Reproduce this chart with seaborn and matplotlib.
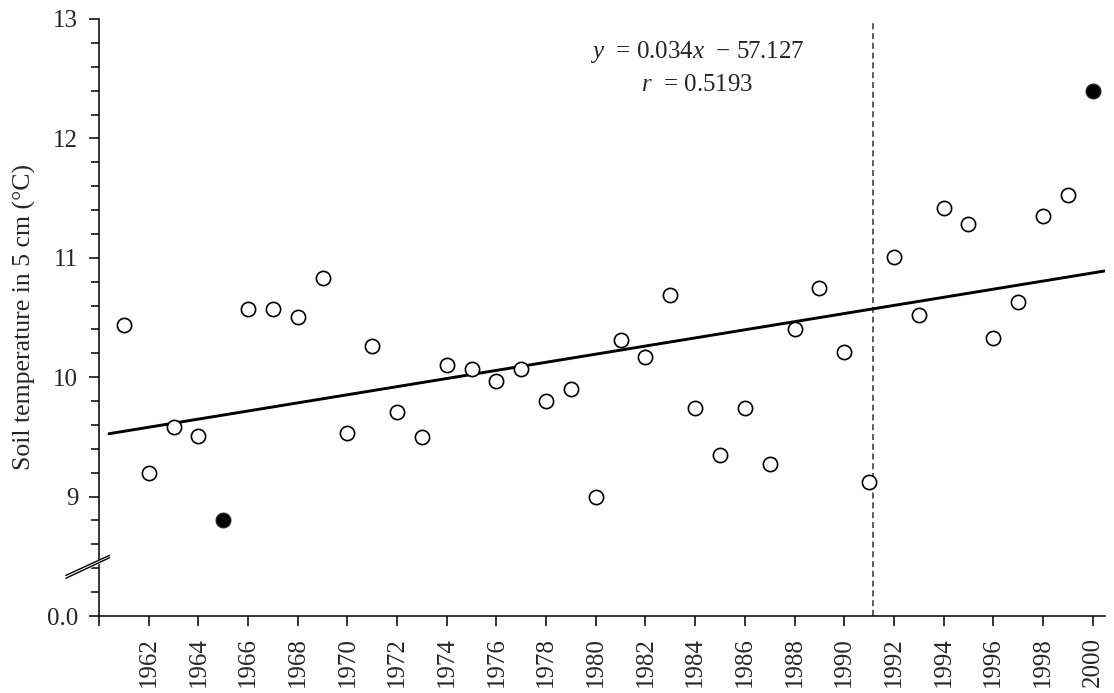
import numpy as np
import pandas as pd
import seaborn as sns
import matplotlib.pyplot as plt

# ----------------------------------------
# Data
# ----------------------------------------
years = list(range(1961, 2001))
temps = [10.44, 9.20, 9.58, 9.51, 8.80, 10.57, 10.57, 10.50, 10.83, 9.53,
         10.26, 9.71, 9.50, 10.10, 10.07, 9.97, 10.07, 9.80, 9.90, 9.00,
         10.31, 10.17, 10.69, 9.74, 9.35, 9.74, 9.27, 10.40, 10.75, 10.21,
         9.12, 11.01, 10.52, 11.42, 11.28, 10.33, 10.63, 11.35, 11.53, 12.40]
filled_years = [1965, 2000]

slope = 0.034
intercept = -57.127
r_value = 0.5193
change_year = 1991.15

x_ticks = list(range(1960, 2001, 2))
x_tick_labels = [""] + [str(y) for y in range(1962, 2001, 2)]
y_ticks = [8, 9, 10, 11, 12, 13]
y_tick_labels = ["0.0", "9", "10", "11", "12", "13"]

df = pd.DataFrame({"year": years, "temp": temps})
df["kind"] = np.where(df["year"].isin(filled_years), "filled", "open")

# ----------------------------------------
# Style
# ----------------------------------------
sns.set_style("ticks")
plt.rcParams["font.family"] = ["Liberation Serif", "DejaVu Serif"]
plt.rcParams["mathtext.fontset"] = "custom"
plt.rcParams["mathtext.rm"] = "Liberation Serif"
plt.rcParams["mathtext.it"] = "Liberation Serif:italic"

fig = plt.figure(figsize=(11.14, 6.93), dpi=100)
ax = fig.add_axes([0.0889, 0.1111, 0.903, 0.8615])

# scatter points
sns.scatterplot(data=df[df["kind"] == "open"], x="year", y="temp", ax=ax,
                color="white", edgecolor="black", linewidth=1.2, s=105,
                zorder=3, legend=False)
sns.scatterplot(data=df[df["kind"] == "filled"], x="year", y="temp", ax=ax,
                color="black", edgecolor="#222222", linewidth=1.0, s=110,
                zorder=3, legend=False)

# regression line y = slope*x + intercept
x_line = np.array([years[0] - 0.6, years[-1] + 0.5])
sns.lineplot(x=x_line, y=slope * x_line + intercept, ax=ax, color="black",
             linewidth=2.1, zorder=2)

# vertical dashed marker
ax.axvline(change_year, ymin=0, ymax=0.995, color="#333333", linewidth=1.1,
           linestyle=(0, (4, 2.4)), zorder=1)

ax.text(1984.1, 12.72, "$y$  = 0.034$x$  \u2212 57.127", ha="center",
        va="center", fontsize=18)
ax.text(1984.1, 12.45, "$r$  = %.4f" % r_value, ha="center", va="center",
        fontsize=18)

# axes
ax.set_xlim(1960, 2000.5)
ax.set_ylim(8, 13)
ax.set_xticks(x_ticks)
ax.set_xticklabels(x_tick_labels, rotation=90)
ax.set_yticks(y_ticks)
ax.set_yticklabels(y_tick_labels)
ax.set_yticks(np.arange(8, 13.01, 0.2), minor=True)
ax.tick_params(axis="both", which="major", labelsize=18, length=7, width=1.1,
               color="black", pad=8)
ax.tick_params(axis="y", which="minor", length=5.5, width=1.1, color="black")
ax.set_xlabel("")
ax.set_ylabel("Soil temperature in 5 cm (\u00b0C)", fontsize=18.5, labelpad=8)
sns.despine(ax=ax)
for side in ["left", "bottom"]:
    ax.spines[side].set_linewidth(1.1)
    ax.spines[side].set_color("black")

# axis break marks
bx = [-0.0330, 0.0105]
ax.fill_between(bx, [0.0632, 0.0977], [0.0680, 0.1017], color="white",
                transform=ax.transAxes, clip_on=False, zorder=5)
ax.plot(bx, [0.0680, 0.1017], color="black", linewidth=1.0,
        transform=ax.transAxes, clip_on=False, zorder=6)
ax.plot(bx, [0.0632, 0.0977], color="black", linewidth=1.0,
        transform=ax.transAxes, clip_on=False, zorder=6)

plt.savefig("out.png", dpi=100)
